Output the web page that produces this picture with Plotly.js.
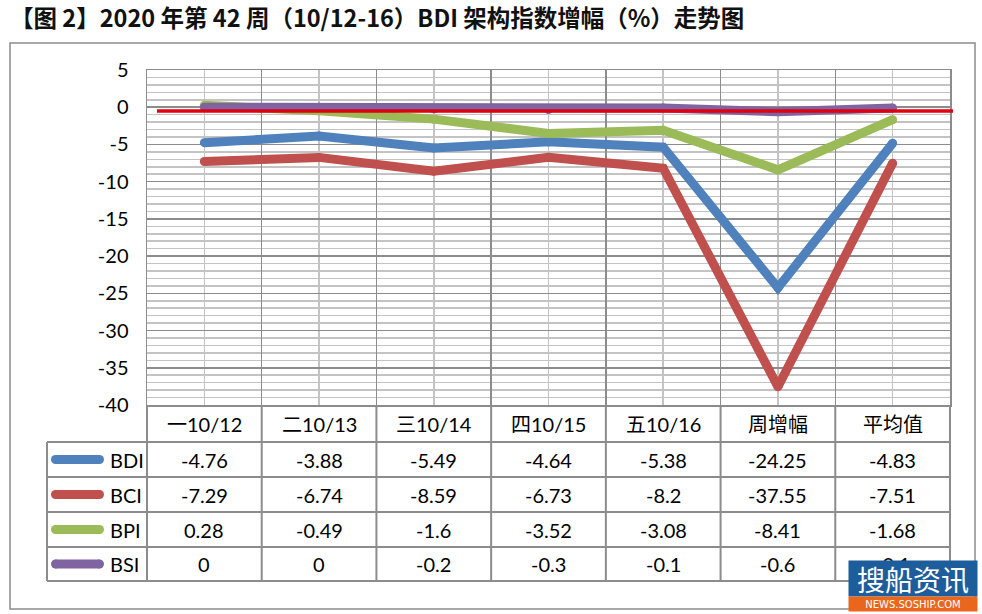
<!DOCTYPE html>
<html>
<head>
<meta charset="utf-8">
<script src="https://cdn.plot.ly/plotly-3.0.1.min.js"></script>
<style>html,body{margin:0;padding:0;background:#fff;}#chart{width:982px;height:614px;}</style>
</head>
<body>
<div id="chart"></div>
<script>
const titleText = '【图 2】2020 年第 42 周（10/12-16）BDI 架构指数增幅（%）走势图';
const categories = ['一10/12', '二10/13', '三10/14', '四10/15', '五10/16', '周增幅', '平均值'];
const seriesNames = ['BDI', 'BCI', 'BPI', 'BSI'];
const bdi = [-4.76, -3.88, -5.49, -4.64, -5.38, -24.25, -4.83];
const bci = [-7.29, -6.74, -8.59, -6.73, -8.2, -37.55, -7.51];
const bpi = [0.28, -0.49, -1.6, -3.52, -3.08, -8.41, -1.68];
const bsi = [0, 0, -0.2, -0.3, -0.1, -0.6, -0.1];
const yTicks = [5, 0, -5, -10, -15, -20, -25, -30, -35, -40];
const refLineValue = -0.5;

const seriesValues = [bdi, bci, bpi, bsi];
const colors = ['#4F81BD', '#C0504D', '#9BBB59', '#8064A2'];

const W = 982, H = 614;
const M = {l: 147, r: 32, t: 70, b: 209};
const PW = W - M.l - M.r, PH = H - M.t - M.b;
const px = X => (X - M.l) / PW;
const py = Y => (M.t + PH - Y) / PH;

const font = "Lato, 'Noto Sans CJK SC', sans-serif";
const xIdx = categories.map((c, i) => i);

const traces = seriesNames.map((name, k) => ({
  type: 'scatter', mode: 'lines+markers', name: name,
  x: xIdx, y: seriesValues[k],
  line: {color: colors[k], width: 9},
  marker: {color: colors[k], size: 9},
  hoverinfo: 'skip', showlegend: false
}));

const gridDark = '#8c8c8c', gridLight = '#c3c3c3', tableLine = '#8c8c8c';
const shapes = [];
const annotations = [];

// reference red line
shapes.push({type: 'line', xref: 'paper', yref: 'y', x0: px(157), x1: px(953), y0: refLineValue, y1: refLineValue,
  line: {color: '#e0000f', width: 3.5}, layer: 'above'});

// table geometry
const rowEdges = [442, 477, 512, 547, 581];
const headerTop = M.t + PH;
const headerMid = (headerTop + rowEdges[0]) / 2;
const tableLeft = 47;
rowEdges.forEach(Y => shapes.push({type: 'line', xref: 'paper', yref: 'paper', x0: px(tableLeft), x1: 1, y0: py(Y), y1: py(Y), line: {color: tableLine, width: 2}}));
for (let k = 0; k <= categories.length; k++) {
  shapes.push({type: 'line', xref: 'paper', yref: 'paper', x0: k / categories.length, x1: k / categories.length, y0: py(headerTop), y1: py(rowEdges[rowEdges.length - 1]), line: {color: tableLine, width: 2}});
}
shapes.push({type: 'line', xref: 'paper', yref: 'paper', x0: px(tableLeft), x1: px(tableLeft), y0: py(rowEdges[0]), y1: py(rowEdges[rowEdges.length - 1]), line: {color: tableLine, width: 2}});

categories.forEach((c, i) => annotations.push({xref: 'x', yref: 'paper', x: i, y: py(headerMid), text: c, showarrow: false,
  xanchor: 'center', yanchor: 'middle', font: {family: font, size: 20, color: '#000'}}));

seriesNames.forEach((name, k) => {
  const mid = (rowEdges[k] + rowEdges[k + 1]) / 2;
  shapes.push({type: 'line', xref: 'paper', yref: 'paper', x0: px(55), x1: px(100), y0: py(mid), y1: py(mid), line: {color: colors[k], width: 9}});
  shapes.push({type: 'circle', xref: 'paper', yref: 'paper', x0: px(51), x1: px(60), y0: py(mid - 4.5), y1: py(mid + 4.5), fillcolor: colors[k], line: {width: 0}});
  shapes.push({type: 'circle', xref: 'paper', yref: 'paper', x0: px(95), x1: px(104), y0: py(mid - 4.5), y1: py(mid + 4.5), fillcolor: colors[k], line: {width: 0}});
  annotations.push({xref: 'paper', yref: 'paper', x: px(108), y: py(mid), text: name, showarrow: false, xanchor: 'left', yanchor: 'middle',
    font: {family: font, size: 20, color: '#000'}});
  seriesValues[k].forEach((v, i) => annotations.push({xref: 'x', yref: 'paper', x: i, y: py(mid), text: String(v), showarrow: false,
    xanchor: 'center', yanchor: 'middle', font: {family: font, size: 20, color: '#000'}}));
});

shapes.push({type: 'rect', xref: 'paper', yref: 'paper', x0: px(10), x1: px(975), y0: py(609), y1: py(43), line: {color: '#8c8c8c', width: 1.5}, layer: 'below'});

// watermark
annotations.push({xref: 'paper', yref: 'paper', x: px(913), y: py(578.5), text: '搜船资讯', showarrow: false, xanchor: 'center', yanchor: 'middle',
  width: 126, height: 33, bgcolor: '#1d5d9b', font: {family: "'Noto Sans CJK SC', sans-serif", size: 28, color: '#fff'}});
annotations.push({xref: 'paper', yref: 'paper', x: px(913), y: py(604), text: 'NEWS.SOSHIP.COM', showarrow: false, xanchor: 'center', yanchor: 'middle',
  width: 126, height: 12, bgcolor: '#e8671c', font: {family: "'DejaVu Sans', sans-serif", size: 10, color: '#fff'}});

const layout = {
  width: W, height: H,
  margin: M,
  paper_bgcolor: '#fff', plot_bgcolor: '#fff',
  title: {text: '<b>' + titleText + '</b>', x: 10 / W, xanchor: 'left', xref: 'container', y: 1 - 19 / H, yanchor: 'middle', yref: 'container',
    font: {family: "'Noto Sans CJK SC', sans-serif", size: 23.5, color: '#111'}},
  xaxis: {range: [-0.5, categories.length - 0.5], tickmode: 'linear', tick0: -0.5, dtick: 1, showticklabels: false, ticks: '',
    showgrid: true, gridcolor: gridDark, gridwidth: 1.5, zeroline: false, showline: true, mirror: true, linecolor: gridDark, linewidth: 1.5,
    minor: {tickmode: 'linear', tick0: 0, dtick: 1, showgrid: true, gridcolor: gridLight, gridwidth: 1.5}, fixedrange: true},
  yaxis: {range: [-40, 5], tickmode: 'array', tickvals: yTicks, ticktext: yTicks.map(String), ticks: 'outside', ticklen: 13, tickcolor: 'rgba(0,0,0,0)',
    tickfont: {family: font, size: 20, color: '#000'}, showgrid: true, gridcolor: gridDark, gridwidth: 1.5, zeroline: false,
    showline: true, mirror: true, linecolor: gridDark, linewidth: 1.5,
    minor: {dtick: 1, showgrid: true, gridcolor: gridLight, gridwidth: 1.5}, fixedrange: true},
  shapes: shapes,
  annotations: annotations,
  showlegend: false
};

Plotly.newPlot('chart', traces, layout, {staticPlot: true, displayModeBar: false});
</script>
</body>
</html>
